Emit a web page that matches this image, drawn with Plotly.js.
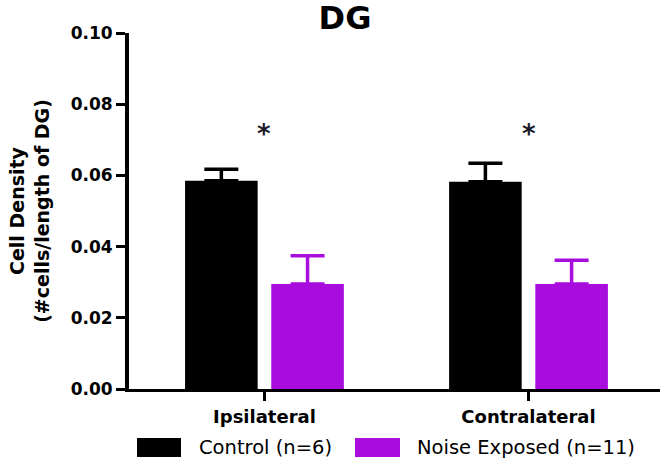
<!DOCTYPE html>
<html>
<head>
<meta charset="utf-8">
<script src="https://cdn.plot.ly/plotly-3.0.1.min.js"></script>
<style>html,body{margin:0;padding:0;background:#fff;}#chart{width:666px;height:467px;}</style>
</head>
<body>
<div id="chart"></div>
<script>
const categories = ["Ipsilateral", "Contralateral"];
const controlMean = [0.0585, 0.0582];
const controlErr = [0.0032, 0.0052];
const noiseMean = [0.0295, 0.0295];
const noiseErr = [0.0079, 0.0067];
const seriesNames = ["Control (n=6)", "Noise Exposed (n=11)"];
const yTickVals = [0, 0.02, 0.04, 0.06, 0.08, 0.10];
const yTickText = ["0.00", "0.02", "0.04", "0.06", "0.08", "0.10"];
const sigMarks = ["*", "*"];
const sigLevel = [0.0717, 0.0717];

const black = "#000000";
const purple = "#a80ddd";

const traces = [
  {
    type: "bar", x: categories, y: controlMean, name: seriesNames[0],
    marker: {color: black, line: {width: 0}},
    error_y: {type: "data", array: controlErr, arrayminus: controlErr.map(() => 0), symmetric: false,
              color: black, thickness: 3.5, width: 17},
    showlegend: false, hoverinfo: "skip"
  },
  {
    type: "bar", x: categories, y: noiseMean, name: seriesNames[1],
    marker: {color: purple, line: {width: 0}},
    error_y: {type: "data", array: noiseErr, arrayminus: noiseErr.map(() => 0), symmetric: false,
              color: purple, thickness: 3.5, width: 17},
    showlegend: false, hoverinfo: "skip"
  }
];

const L = 129, R = 6, T = 33, B = 78, W = 666, H = 467;
const pw = W - L - R, ph = H - T - B;
const px = v => (v - L) / pw;
const py = v => (H - B - v) / ph;

const annotations = categories.map((c, i) => ({
  x: c, y: sigLevel[i], xref: "x", yref: "y", text: sigMarks[i], showarrow: false,
  font: {family: "DejaVu Sans", size: 26, color: "#1c1c2c", weight: "bold"}, yanchor: "middle"
}));

// legend drawn manually
const legendItems = [
  {x0: 137, x1: 181, tx: 197, color: black, label: seriesNames[0]},
  {x0: 355, x1: 400, tx: 415, color: purple, label: seriesNames[1]}
];
const shapes = [];
legendItems.forEach(it => {
  shapes.push({type: "rect", xref: "paper", yref: "paper",
    x0: px(it.x0), x1: px(it.x1), y0: py(457), y1: py(438),
    fillcolor: it.color, line: {width: 0}});
  annotations.push({xref: "paper", yref: "paper", x: px(it.tx), y: py(447),
    xanchor: "left", yanchor: "middle", showarrow: false, text: it.label,
    font: {family: "DejaVu Sans", size: 19.5, color: "#000"}});
});

const layout = {
  width: W, height: H,
  margin: {l: L, r: R, t: T, b: B, pad: 0},
  paper_bgcolor: "#fff", plot_bgcolor: "#fff",
  title: {text: "DG", x: 345 / W, xanchor: "center", xref: "container", y: 1 - 18 / H, yanchor: "middle",
          font: {family: "DejaVu Sans", size: 32, color: "#000", weight: "bold"}},
  barmode: "group", bargap: 0.347, bargroupgap: 0.158,
  xaxis: {
    range: [-0.513, 1.498], showgrid: false, zeroline: false,
    showline: true, linecolor: "#000", linewidth: 3,
    ticks: "outside", ticklen: 9, tickwidth: 3.5, tickcolor: "#000",
    tickfont: {family: "DejaVu Sans", size: 18, color: "#000", weight: "bold"},
    fixedrange: true
  },
  yaxis: {
    range: [0, 0.1], showgrid: false, zeroline: false,
    showline: true, linecolor: "#000", linewidth: 4,
    ticks: "outside", ticklen: 9, tickwidth: 3, tickcolor: "#000",
    tickvals: yTickVals, ticktext: yTickText,
    tickfont: {family: "DejaVu Sans", size: 17, color: "#000", weight: "bold"},
    title: {text: "Cell Density<br>(#cells/length of DG)", standoff: 17,
            font: {family: "DejaVu Sans", size: 19, color: "#000", weight: "bold"}},
    fixedrange: true
  },
  showlegend: false,
  annotations: annotations,
  shapes: shapes
};

Plotly.newPlot("chart", traces, layout, {displayModeBar: false, staticPlot: true});
</script>
</body>
</html>
